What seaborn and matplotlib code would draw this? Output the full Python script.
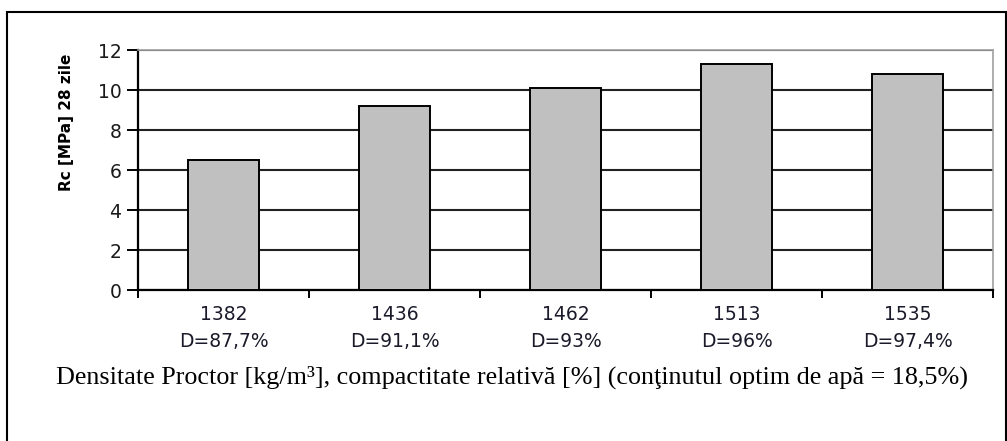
import matplotlib
matplotlib.use("Agg")
import matplotlib.pyplot as plt
import matplotlib.patches as mpatches
import seaborn as sns
import pandas as pd

# Proctor density categories and compressive strength at 28 days
densities = ["1382", "1436", "1462", "1513", "1535"]
compactness = ["D=87,7%", "D=91,1%", "D=93%", "D=96%", "D=97,4%"]
strength = [6.5, 9.2, 10.1, 11.3, 10.8]
y_ticks = [0, 2, 4, 6, 8, 10, 12]

labels = [f"{d}\n{c}" for d, c in zip(densities, compactness)]
df = pd.DataFrame({"label": labels, "Rc": strength})

sns.set_theme(style="white")
plt.rcParams["font.family"] = ["DejaVu Sans"]

W, H = 1007, 441
fig = plt.figure(figsize=(W / 100, H / 100), dpi=100)
ax = fig.add_axes([138 / W, 1 - 290 / H, (993 - 138) / W, (290 - 50) / H])

sns.barplot(data=df, x="label", y="Rc", ax=ax, color="#c0c0c0",
            saturation=1, width=0.41, edgecolor="black", linewidth=1.4,
            zorder=3)

ax.set_ylim(0, 12)
ax.set_xlim(-0.5, len(labels) - 0.5)
ax.set_yticks(y_ticks)
ax.set_yticklabels([str(t) for t in y_ticks], fontsize=13.5, color="#1a1a1a")
ax.yaxis.grid(True, color="#222222", linewidth=1.5, zorder=1)
ax.set_axisbelow(True)

# boundary ticks between categories, labels centred under the bars
ax.set_xticks([i - 0.5 for i in range(len(labels) + 1)])
ax.set_xticklabels([""] * (len(labels) + 1))
ax.set_xticks(range(len(labels)), minor=True)
ax.set_xticklabels(labels, minor=True, fontsize=13.5, color="#1a1a2a",
                   linespacing=1.5)
ax.tick_params(axis="x", which="major", direction="out", length=6,
               width=1.4, color="black", bottom=True)
ax.tick_params(axis="x", which="minor", length=0, pad=11)
ax.tick_params(axis="y", direction="out", length=8, width=1.4,
               color="black", left=True, pad=4)

ax.set_xlabel("")
ax.set_ylabel("")
for side in ["left", "bottom"]:
    ax.spines[side].set_color("black")
    ax.spines[side].set_linewidth(1.6)
for side in ["top", "right"]:
    ax.spines[side].set_color("#a0a0a0")
    ax.spines[side].set_linewidth(1.2)

fig.text(66 / W, 1 - 122 / H, "Rc [MPa] 28 zile", rotation=90,
         ha="center", va="center", fontsize=11, fontweight="bold",
         family=["Liberation Sans Narrow", "DejaVu Sans"], color="black")

fig.text(512 / W, 1 - 377 / H,
         "Densitate Proctor [kg/m³], compactitate relativă [%] "
         "(conţinutul optim de apă = 18,5%)",
         ha="center", va="center", fontsize=18.8,
         family=["Liberation Serif", "DejaVu Serif"], color="black")

# outer frame around the chart
frame = mpatches.Rectangle((7 / W, -0.05), (1005.5 - 7) / W, 1.05 - 12 / H,
                           transform=fig.transFigure, fill=False,
                           edgecolor="black", linewidth=1.5, clip_on=False)
fig.patches.append(frame)

fig.savefig("out.png", dpi=100, facecolor="white")
